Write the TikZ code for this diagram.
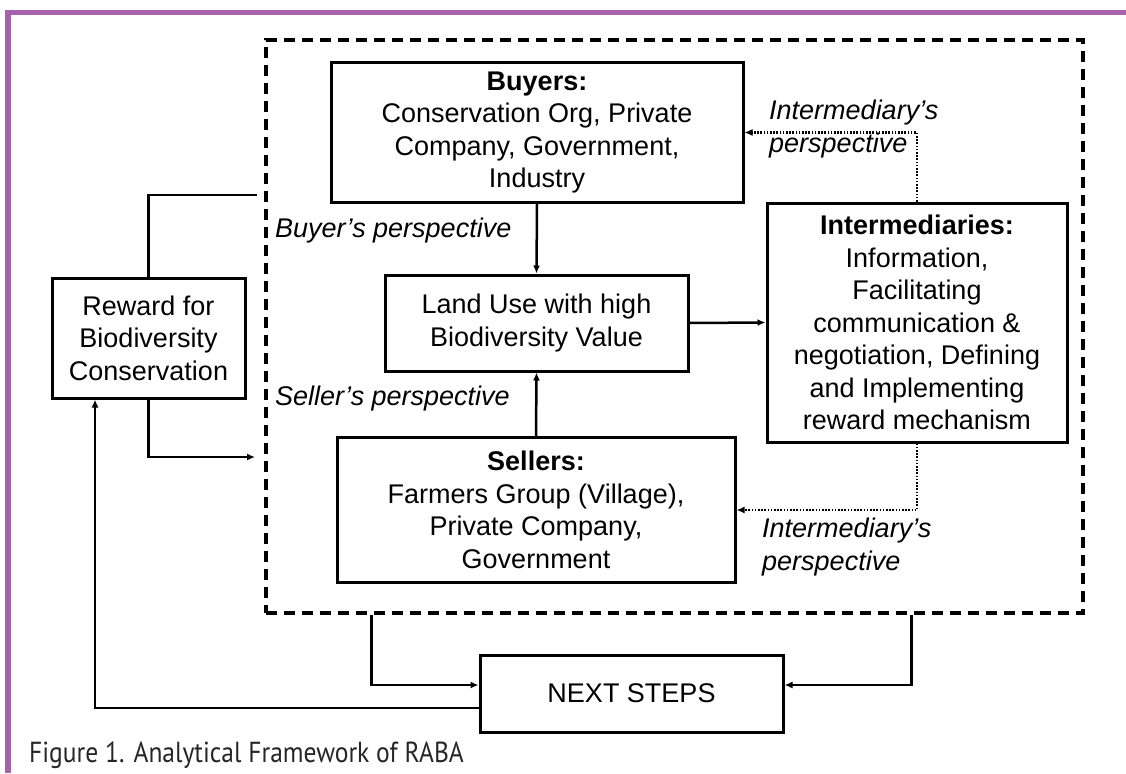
\documentclass[tikz,border=0pt]{standalone}
\usepackage{fontspec}
\setmainfont{Liberation Sans}
\newfontfamily\capfont[FakeStretch=0.88]{PT Sans}
\usetikzlibrary{arrows.meta}
\definecolor{framepurple}{RGB}{166,98,170}
\begin{document}
\begin{tikzpicture}[x=1pt,y=-1pt,
  box/.style={draw, line width=3pt, inner sep=0pt, align=center,
    font=\fontsize{27}{32.5}\selectfont},
  dashbox/.style={draw, line width=3.2pt, dash pattern=on 11pt off 7pt, inner sep=0pt},
  conn/.style={line width=2.5pt, -{Latex[length=8pt,width=7pt]}},
  plain/.style={line width=2.5pt},
  dotconn/.style={line width=2.3pt, dash pattern=on 1.6pt off 1.6pt, -{Latex[length=8pt,width=7pt]}},
  lab/.style={inner sep=0pt, align=left, font=\fontsize{27}{33}\selectfont\itshape},
  captext/.style={inner sep=0pt, anchor=base west, text=black!85,
    font=\capfont\fontsize{29}{32}\selectfont}]
\useasboundingbox (0,0) rectangle (1126,773);
\fill[white] (0,0) rectangle (1126,773);
\draw[framepurple, line width=5.5pt, line join=miter] (8,773) -- (8,12.5) -- (1126,12.5);

\node[dashbox, minimum width=817, minimum height=573] (frame) at (674.5,326.5) {};

\node[box, minimum width=412, minimum height=139] (buyers) at (537,132.5)
  {\textbf{Buyers:}\\Conservation Org, Private\\Company, Government,\\Industry};
\node[box, minimum width=303, minimum height=96] (landuse) at (536.5,323)
  {Land Use with high\\Biodiversity Value};
\node[box, minimum width=398, minimum height=145] (sellers) at (536,510)
  {\textbf{Sellers:}\\Farmers Group (Village),\\Private Company,\\Government};
\node[box, minimum width=300, minimum height=239] (inter) at (917,322.5)
  {\textbf{Intermediaries:}\\Information,\\Facilitating\\communication \&\\negotiation, Defining\\and Implementing\\reward mechanism};
\node[box, minimum width=193, minimum height=120] (reward) at (148.5,338)
  {Reward for\\Biodiversity\\Conservation};
\node[box, minimum width=303, minimum height=77] (next) at (631.5,693.5)
  {NEXT STEPS};

\node[lab, anchor=west] (bp) at (275,231) {Buyer’s perspective};
\node[lab, anchor=west] (sp) at (275,399) {Seller’s perspective};
\node[lab, anchor=west] (ip1) at (769,129.5) {Intermediary’s\\perspective};
\node[lab, anchor=west] (ip2) at (762,547.5) {Intermediary’s\\perspective};

\coordinate (rt) at (257,195);
\coordinate (rb) at (255,457);

\draw[conn] (buyers.south) -- (landuse.north);
\draw[conn] (sellers.north) -- (landuse.south);
\draw[conn] (landuse.east) -- (inter.west);
\draw[dotconn] (inter.north) |- (buyers.east);
\draw[dotconn] (inter.south) |- (sellers.east);
\draw[plain] (reward.north) |- (rt);
\draw[conn] (reward.south) |- (rb);
\draw[conn] ([xshift=107pt]frame.south west) |- ([yshift=8.5pt]next.west);
\draw[conn] ([xshift=-173pt]frame.south east) |- ([yshift=8.5pt]next.east);
\draw[conn] ([yshift=-14.5pt]next.west) -| ([xshift=-53.5pt]reward.south);

\node[captext] (cap) at (29,762) {Figure 1. Analytical Framework of RABA};
\end{tikzpicture}
\end{document}
